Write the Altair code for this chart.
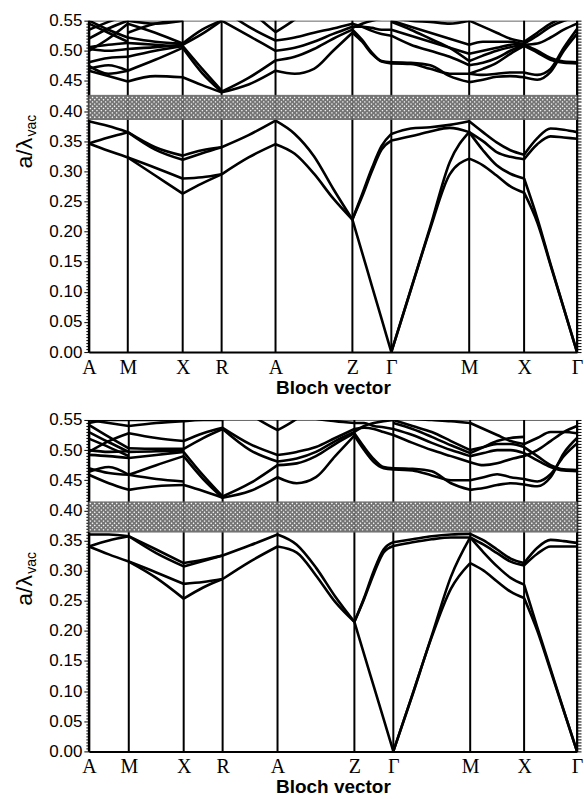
import altair as alt
import pandas as pd

# ---------------- data ----------------
K_LABELS = ["A", "M", "X", "R", "A", "Z", "Γ", "M", "X", "Γ"]
TOP_K = [0, 39, 94, 133, 187, 264, 303, 381, 436, 489]
BOT_K = [0, 40, 95, 134, 189, 266, 305, 382, 436, 489]
TOP_GAP = [0.386, 0.426]
BOT_GAP = [0.364, 0.414]

# each segment: list of bands, values evenly spaced from start k-point to end k-point
TOP_AM = [[0.346, 0.334, 0.323], [0.346, 0.356, 0.365], [0.383, 0.375, 0.365],
          [0.467, 0.458, 0.449], [0.475, 0.462, 0.467], [0.470, 0.476, 0.467],
          [0.481, 0.488, 0.490], [0.503, 0.500, 0.503], [0.506, 0.510, 0.513],
          [0.520, 0.537, 0.550], [0.535, 0.548, 0.560], [0.550, 0.535, 0.522],
          [0.545, 0.530, 0.515], [0.500, 0.520, 0.545]]
TOP_MX = [[0.365, 0.340, 0.326], [0.365, 0.336, 0.319], [0.323, 0.306, 0.288], [0.323, 0.293, 0.263],
          [0.449, 0.458, 0.456], [0.467, 0.485, 0.505], [0.490, 0.500, 0.508],
          [0.503, 0.506, 0.510], [0.513, 0.510, 0.507], [0.522, 0.515, 0.512],
          [0.530, 0.545, 0.550], [0.550, 0.545, 0.550], [0.545, 0.530, 0.512]]
TOP_XR = [[0.326, 0.335, 0.340], [0.319, 0.330, 0.340], [0.288, 0.290, 0.295], [0.263, 0.280, 0.295],
          [0.456, 0.443, 0.431], [0.508, 0.470, 0.434], [0.505, 0.463, 0.432],
          [0.510, 0.528, 0.550], [0.512, 0.535, 0.550]]
TOP_RA = [[0.340, 0.360, 0.384], [0.295, 0.323, 0.345],
          [0.550, 0.525, 0.500], [0.570, 0.540, 0.517], [0.620, 0.570, 0.531],
          [0.432, 0.455, 0.484], [0.431, 0.444, 0.467]]
TOP_AZ = [[0.384, 0.362, 0.325, 0.271, 0.220], [0.345, 0.329, 0.296, 0.255, 0.220],
          [0.467, 0.462, 0.470, 0.500, 0.530], [0.484, 0.490, 0.503, 0.520, 0.535],
          [0.500, 0.505, 0.515, 0.528, 0.540], [0.517, 0.522, 0.530, 0.537, 0.545],
          [0.531, 0.552, 0.580, 0.600, 0.620]]
TOP_ZG = [[0.220, 0.165, 0.110, 0.055, 0.000], [0.220, 0.262, 0.305, 0.342, 0.362],
          [0.220, 0.258, 0.300, 0.336, 0.351],
          [0.530, 0.515, 0.495, 0.483, 0.481], [0.535, 0.518, 0.497, 0.482, 0.479],
          [0.540, 0.540, 0.538, 0.535, 0.535], [0.545, 0.540, 0.533, 0.528, 0.525],
          [0.538, 0.545, 0.550, 0.553, 0.555]]
TOP_GM = [[0.000, 0.103, 0.205, 0.295, 0.321], [0.000, 0.104, 0.208, 0.315, 0.365],
          [0.351, 0.358, 0.366, 0.372, 0.365], [0.362, 0.371, 0.373, 0.377, 0.383],
          [0.481, 0.480, 0.476, 0.458, 0.448], [0.479, 0.478, 0.470, 0.462, 0.462],
          [0.525, 0.510, 0.500, 0.490, 0.476], [0.535, 0.525, 0.515, 0.505, 0.495],
          [0.550, 0.540, 0.530, 0.520, 0.510], [0.555, 0.550, 0.548, 0.545, 0.550],
          [0.548, 0.535, 0.520, 0.505, 0.483]]
TOP_MX2 = [[0.383, 0.365, 0.348, 0.335, 0.3275], [0.365, 0.350, 0.332, 0.324, 0.320],
           [0.365, 0.335, 0.310, 0.296, 0.288], [0.321, 0.310, 0.293, 0.275, 0.2645],
           [0.448, 0.452, 0.457, 0.458, 0.456], [0.462, 0.470, 0.480, 0.495, 0.508],
           [0.476, 0.480, 0.488, 0.500, 0.510], [0.495, 0.500, 0.505, 0.510, 0.512],
           [0.510, 0.515, 0.515, 0.515, 0.510], [0.550, 0.540, 0.530, 0.520, 0.515],
           [0.462, 0.460, 0.462, 0.464, 0.464], [0.483, 0.492, 0.500, 0.506, 0.510]]
TOP_XG = [[0.3275, 0.355, 0.371, 0.369, 0.365], [0.320, 0.345, 0.358, 0.356, 0.354],
          [0.288, 0.222, 0.146, 0.073, 0.000], [0.2645, 0.215, 0.144, 0.072, 0.000],
          [0.456, 0.452, 0.465, 0.500, 0.528], [0.464, 0.460, 0.470, 0.505, 0.536],
          [0.510, 0.500, 0.488, 0.482, 0.481], [0.508, 0.497, 0.485, 0.480, 0.479],
          [0.512, 0.525, 0.540, 0.550, 0.555], [0.515, 0.530, 0.545, 0.555, 0.560],
          [0.510, 0.512, 0.522, 0.535, 0.545]]

BOT_AM = [[0.340, 0.327, 0.315], [0.340, 0.350, 0.357], [0.360, 0.360, 0.357],
          [0.459, 0.445, 0.434], [0.464, 0.472, 0.459], [0.470, 0.462, 0.459],
          [0.492, 0.490, 0.487], [0.500, 0.497, 0.498], [0.542, 0.522, 0.503],
          [0.530, 0.513, 0.497], [0.519, 0.505, 0.490], [0.497, 0.515, 0.528],
          [0.550, 0.545, 0.540], [0.545, 0.550, 0.550]]
BOT_MX = [[0.357, 0.335, 0.3125], [0.357, 0.329, 0.307], [0.315, 0.297, 0.278], [0.315, 0.288, 0.2535],
          [0.434, 0.440, 0.442], [0.459, 0.452, 0.448], [0.459, 0.475, 0.490],
          [0.487, 0.492, 0.497], [0.497, 0.498, 0.500], [0.503, 0.502, 0.502],
          [0.528, 0.520, 0.515], [0.540, 0.545, 0.548], [0.550, 0.550, 0.550]]
BOT_XR = [[0.3125, 0.318, 0.325], [0.307, 0.316, 0.325], [0.278, 0.281, 0.286], [0.2535, 0.272, 0.286],
          [0.442, 0.432, 0.421], [0.497, 0.458, 0.423], [0.490, 0.452, 0.421],
          [0.502, 0.520, 0.535], [0.515, 0.528, 0.537], [0.548, 0.550, 0.550]]
BOT_RA = [[0.325, 0.342, 0.360], [0.286, 0.315, 0.340],
          [0.537, 0.510, 0.492], [0.535, 0.500, 0.481], [0.421, 0.432, 0.455],
          [0.423, 0.445, 0.475], [0.600, 0.560, 0.533]]
BOT_AZ = [[0.360, 0.343, 0.305, 0.257, 0.215], [0.340, 0.330, 0.292, 0.248, 0.215],
          [0.455, 0.445, 0.455, 0.490, 0.524], [0.475, 0.478, 0.490, 0.510, 0.528],
          [0.481, 0.486, 0.497, 0.515, 0.530], [0.492, 0.497, 0.505, 0.520, 0.535],
          [0.533, 0.552, 0.580, 0.600, 0.620], [0.570, 0.560, 0.552, 0.548, 0.545]]
BOT_ZG = [[0.215, 0.161, 0.1075, 0.054, 0.000], [0.215, 0.255, 0.300, 0.335, 0.347],
          [0.215, 0.253, 0.295, 0.330, 0.341],
          [0.528, 0.505, 0.485, 0.472, 0.470], [0.524, 0.500, 0.480, 0.470, 0.468],
          [0.535, 0.537, 0.535, 0.530, 0.525], [0.545, 0.545, 0.540, 0.538, 0.535],
          [0.530, 0.540, 0.545, 0.548, 0.550]]
BOT_GM = [[0.000, 0.094, 0.190, 0.270, 0.3125], [0.000, 0.095, 0.192, 0.290, 0.355],
          [0.341, 0.347, 0.352, 0.355, 0.355], [0.347, 0.352, 0.357, 0.360, 0.361],
          [0.470, 0.469, 0.465, 0.445, 0.434], [0.468, 0.466, 0.458, 0.450, 0.450],
          [0.525, 0.512, 0.500, 0.490, 0.480], [0.535, 0.525, 0.512, 0.500, 0.490],
          [0.550, 0.540, 0.530, 0.515, 0.500], [0.555, 0.552, 0.550, 0.548, 0.545],
          [0.545, 0.535, 0.522, 0.508, 0.495]]
BOT_MX2 = [[0.361, 0.350, 0.335, 0.320, 0.3125], [0.355, 0.343, 0.329, 0.315, 0.3087],
           [0.355, 0.330, 0.307, 0.288, 0.2767], [0.3125, 0.300, 0.282, 0.265, 0.2546],
           [0.434, 0.437, 0.442, 0.445, 0.443], [0.450, 0.455, 0.460, 0.455, 0.452],
           [0.480, 0.475, 0.478, 0.485, 0.490], [0.490, 0.495, 0.500, 0.500, 0.495],
           [0.500, 0.505, 0.510, 0.510, 0.505], [0.545, 0.535, 0.525, 0.515, 0.510],
           [0.495, 0.505, 0.515, 0.520, 0.522]]
BOT_XG = [[0.3125, 0.338, 0.351, 0.349, 0.346], [0.3087, 0.328, 0.340, 0.340, 0.340],
          [0.2767, 0.206, 0.137, 0.068, 0.000], [0.2546, 0.200, 0.134, 0.067, 0.000],
          [0.443, 0.440, 0.455, 0.495, 0.520], [0.452, 0.448, 0.460, 0.490, 0.511],
          [0.505, 0.490, 0.475, 0.468, 0.467], [0.495, 0.483, 0.472, 0.466, 0.465],
          [0.510, 0.520, 0.530, 0.530, 0.528], [0.490, 0.500, 0.515, 0.530, 0.540]]

TOP_SEGS = [TOP_AM, TOP_MX, TOP_XR, TOP_RA, TOP_AZ, TOP_ZG, TOP_GM, TOP_MX2, TOP_XG]
BOT_SEGS = [BOT_AM, BOT_MX, BOT_XR, BOT_RA, BOT_AZ, BOT_ZG, BOT_GM, BOT_MX2, BOT_XG]

Y_TICKS = [round(i * 0.005, 3) for i in range(111)]

W, H = 489, 332
XMAX = 489


def band_frame(kpos, segs):
    rows = []
    lid = 0
    for si, lines in enumerate(segs):
        x0, x1 = kpos[si], kpos[si + 1]
        for vals in lines:
            n = len(vals)
            for j, v in enumerate(vals):
                rows.append({"x": x0 + (x1 - x0) * j / (n - 1), "v": v, "line": lid})
            lid += 1
    return pd.DataFrame(rows)


def hatch_frame(gap):
    lo, hi = gap
    px = 4.4
    dy = (px / 2) / 603.6
    rows = []
    j = 0
    y = lo + dy
    while y < hi - dy * 0.5:
        off = (px / 2) if j % 2 else 0.0
        x = 1.5 + off
        while x < XMAX:
            rows.append({"x": x, "v": y})
            x += px
        y += dy
        j += 1
    return pd.DataFrame(rows)


major_test = "abs(datum.value*20 - round(datum.value*20)) < 0.001"


def panel(kpos, segs, gap, title_y):
    xs = alt.Scale(domain=[0, XMAX], nice=False, zero=False)
    ys = alt.Scale(domain=[0, 0.55], nice=False, zero=False)
    lab_arr = "[" + ",".join("'%s'" % s for s in K_LABELS) + "]"
    pos_arr = "[" + ",".join(str(p) for p in kpos) + "]"
    xaxis = alt.Axis(values=kpos, labelExpr=f"{lab_arr}[indexof({pos_arr}, datum.value)]",
                     grid=False, ticks=False, domainColor="black", domainWidth=2,
                     labelFont="Liberation Serif", labelFontSize=20, labelColor="black",
                     labelPadding=5, labelFlush=False, labelOverlap=False,
                     title="Bloch vector", titleFont="Liberation Sans", titleFontSize=19,
                     titleFontWeight="bold", titleColor="black", titlePadding=1)
    yaxis = alt.Axis(values=Y_TICKS, labelExpr=f"{major_test} ? format(datum.value, '.2f') : ''",
                     tickSize={"condition": {"test": major_test, "value": 5}, "value": 3},
                     tickColor="black", tickWidth=1, grid=False, domainColor="black", domainWidth=2,
                     labelFont="Liberation Sans", labelFontSize=17, labelColor="black",
                     labelPadding=2, labelOverlap=False, labelBound=False, title=None, orient="left")

    bands = band_frame(kpos, segs)
    kdf = pd.DataFrame({"x": kpos})
    gdf = pd.DataFrame({"x": [0], "x1": [XMAX], "v": [gap[0]], "hi": [gap[1]]})
    hdf = hatch_frame(gap)

    X = alt.X("x:Q", scale=xs, axis=xaxis, title="Bloch vector")
    Y = alt.Y("v:Q", scale=ys, axis=yaxis)

    lines = alt.Chart(bands).mark_line(interpolate="monotone", color="black", strokeWidth=2.6, clip=True).encode(
        x=X, y=Y, detail="line:N")
    rules = alt.Chart(kdf).mark_rule(color="black", strokeWidth=2).encode(x=X)
    rect = alt.Chart(gdf).mark_rect(fill="#6a6a6a", stroke="#666666", strokeWidth=1, opacity=0.93).encode(
        x=X, x2="x1:Q", y=Y, y2="hi:Q")
    dots = alt.Chart(hdf).mark_point(shape="diamond", filled=True, color="white", size=3.5, opacity=1,
                                     strokeWidth=0).encode(x=X, y=Y)
    t1 = alt.Chart(pd.DataFrame({"t": ["a/λ"]})).mark_text(
        angle=270, align="left", baseline="alphabetic", fontSize=23, font="Liberation Sans", color="black"
    ).encode(text="t:N", x=alt.value(-57), y=alt.value(title_y))
    t2 = alt.Chart(pd.DataFrame({"t": ["vac"]})).mark_text(
        angle=270, align="left", baseline="alphabetic", fontSize=14, font="Liberation Sans", color="black"
    ).encode(text="t:N", x=alt.value(-53), y=alt.value(title_y - 32))
    main = alt.layer(lines, rules, rect, dots, t1, t2)
    right = alt.Chart(pd.DataFrame({"v": [0.0]})).mark_point(opacity=0).encode(
        y=alt.Y("v:Q", scale=ys, axis=alt.Axis(orient="right", values=Y_TICKS, labels=False, tickSize=4,
                                               tickColor="black", domainColor="black", domainWidth=1.5,
                                               grid=False, title=None)))
    return alt.layer(main, right).resolve_scale(y="independent").properties(width=W, height=H)


top = panel(TOP_K, TOP_SEGS, TOP_GAP, 148)
bot = panel(BOT_K, BOT_SEGS, BOT_GAP, 186)

chart = alt.vconcat(top, bot, spacing=12).properties(
    padding={"left": 13, "top": 10, "right": 0, "bottom": 0}, background="white"
).configure_view(stroke="#666666", strokeWidth=1)

chart.save("out.html", embed_options={"renderer": "svg", "actions": False})
